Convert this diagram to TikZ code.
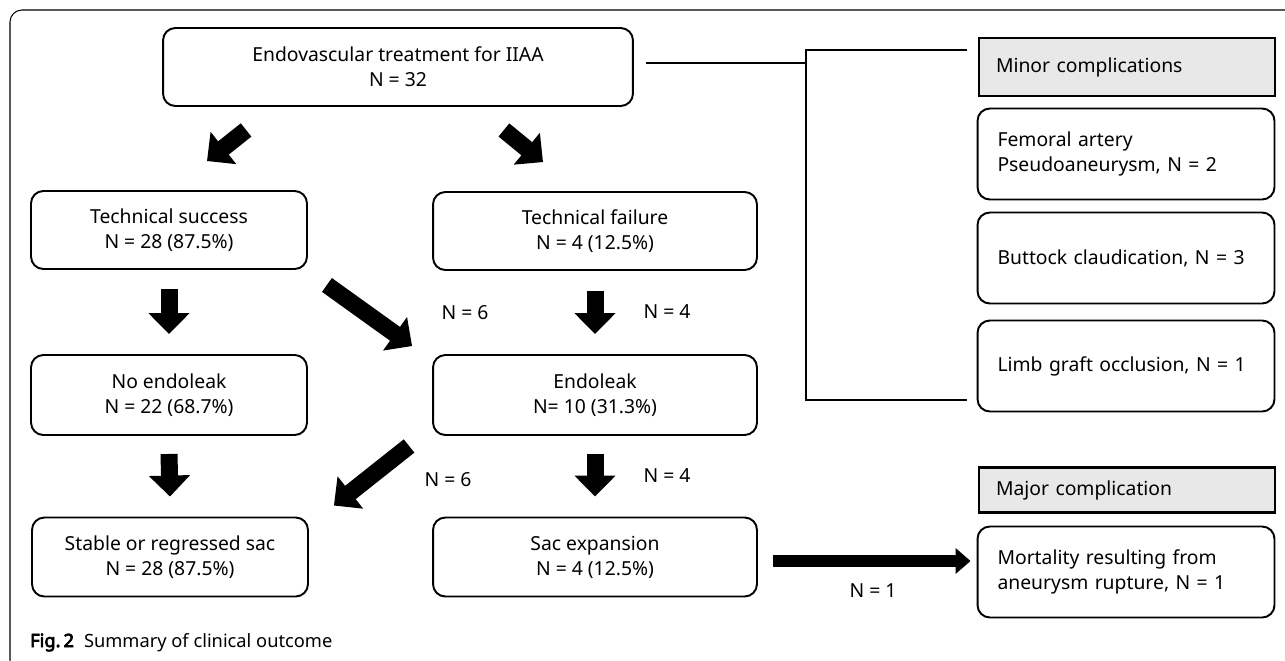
\documentclass[tikz,border=0pt]{standalone}
\usepackage{fontspec}
\setmainfont{Noto Sans}
\newfontfamily\figfont{Noto Sans}[FakeBold=4]
\usetikzlibrary{arrows.meta}
\tikzset{
  stage/.style={
    draw,
    line width=1.1pt,
    rounded corners=7pt,
    minimum height=1.56cm,
    align=center,
    font=\fontsize{11}{14.3}\selectfont
  },
  sidebox/.style={
    stage,
    align=left,
    text width=5.14cm,
    inner xsep=0.4cm,
    minimum height=1.82cm
  },
  header/.style={
    draw,
    line width=1.3pt,
    fill=gray!18,
    align=left,
    text width=5.24cm,
    inner xsep=0.34cm,
    font=\fontsize{11}{14.3}\selectfont
  },
  count/.style={font=\fontsize{11}{14.3}\selectfont},
  link/.style={line width=1pt},
  fat/.style={line width=0.34cm, -{Triangle[length=0.42cm,width=0.8cm]}},
  flat/.style={line width=0.24cm, -{Triangle[length=0.3cm,width=0.5cm]}}
}

\begin{document}
\begin{tikzpicture}[x=0.02cm, y=-0.02cm]
  \useasboundingbox (0,0) rectangle (1285,660);
  \draw[line width=0.6pt, rounded corners=0.24cm] (30,672) -- (10,672) -- (10,10) -- (1285,10);

  \node[stage, minimum width=9.4cm] (treat) at (398,67) {Endovascular treatment for IIAA\\N = 32};
  \node[stage, minimum width=5.52cm] (success) at (169,230) {Technical success\\N = 28 (87.5\%)};
  \node[stage, minimum width=6.48cm] (failure) at (595,231) {Technical failure\\N = 4 (12.5\%)};
  \node[stage, minimum width=5.52cm, minimum height=1.6cm] (noleak) at (169,395) {No endoleak\\N = 22 (68.7\%)};
  \node[stage, minimum width=6.48cm, minimum height=1.6cm] (leak) at (595,395) {Endoleak\\N= 10 (31.3\%)};
  \node[stage, minimum width=5.52cm, minimum height=1.58cm] (stable) at (170,557) {Stable or regressed sac\\N = 28 (87.5\%)};
  \node[stage, minimum width=6.48cm, minimum height=1.58cm] (expand) at (595,557) {Sac expansion\\N = 4 (12.5\%)};

  \node[header, minimum height=1.16cm] (minor) at (1127,67) {Minor complications};
  \node[sidebox] (femoral) at (1126,154) {Femoral artery\\Pseudoaneurysm, N = 2};
  \node[sidebox] (buttock) at (1126,258) {Buttock claudication, N = 3};
  \node[sidebox] (limb) at (1126,366) {Limb graft occlusion, N = 1};
  \node[header, minimum height=0.9cm] (major) at (1127,490) {Major complication};
  \node[sidebox] (death) at (1126,572) {Mortality resulting from\\aneurysm rupture, N = 1};

  \coordinate (kneetop) at (806,50);
  \coordinate (kneebot) at (806,400);
  \coordinate (endtop) at (967,50);
  \coordinate (endbot) at (967,400);
  \draw[link] ([shift={(12,-4)}]treat.east) coordinate (tie) -- (tie -| kneetop);
  \draw[link] (endtop) -- (kneetop) -- (kneebot) -- (endbot);

  \draw[fat] ([shift={(84,23)}]treat.south west) -- ([shift={(38,-29)}]success.north);
  \draw[fat] ([shift={(-130,23)}]treat.south east) -- ([shift={(-52,-29)}]failure.north);
  \draw[fat] ([shift={(0,19)}]success.south) -- ([shift={(0,-20)}]noleak.north);
  \draw[fat] ([shift={(19,15)}]success.south east) -- ([shift={(-20,-8)}]leak.north west);
  \draw[fat] ([shift={(0,20)}]failure.south) -- ([shift={(0,-20)}]leak.north);
  \draw[fat] ([shift={(0,18)}]noleak.south) -- ([shift={(0,-20)}]stable.north);
  \draw[fat] ([shift={(-23,10)}]leak.south west) -- ([shift={(25,-11)}]stable.north east);
  \draw[fat] ([shift={(0,18)}]leak.south) -- ([shift={(0,-20)}]expand.north);
  \draw[flat] ([shift={(15,4)}]expand.east) coordinate (out) -- ([xshift=-0.12cm]out -| death.west);

  \node[count] (sixa) at (465,313) {N = 6};
  \node[count] (foura) at (667,312) {N = 4};
  \node[count] (sixb) at (448,480) {N = 6};
  \node[count] (fourb) at (667,476) {N = 4};
  \node[count] (one) at (873,591) {N = 1};

  \node[anchor=base west, font=\fontsize{10.4}{13}\selectfont] (caption) at (24,647) {{\figfont Fig.\,2}\hspace{0.55em}Summary of clinical outcome};
\end{tikzpicture}
\end{document}
